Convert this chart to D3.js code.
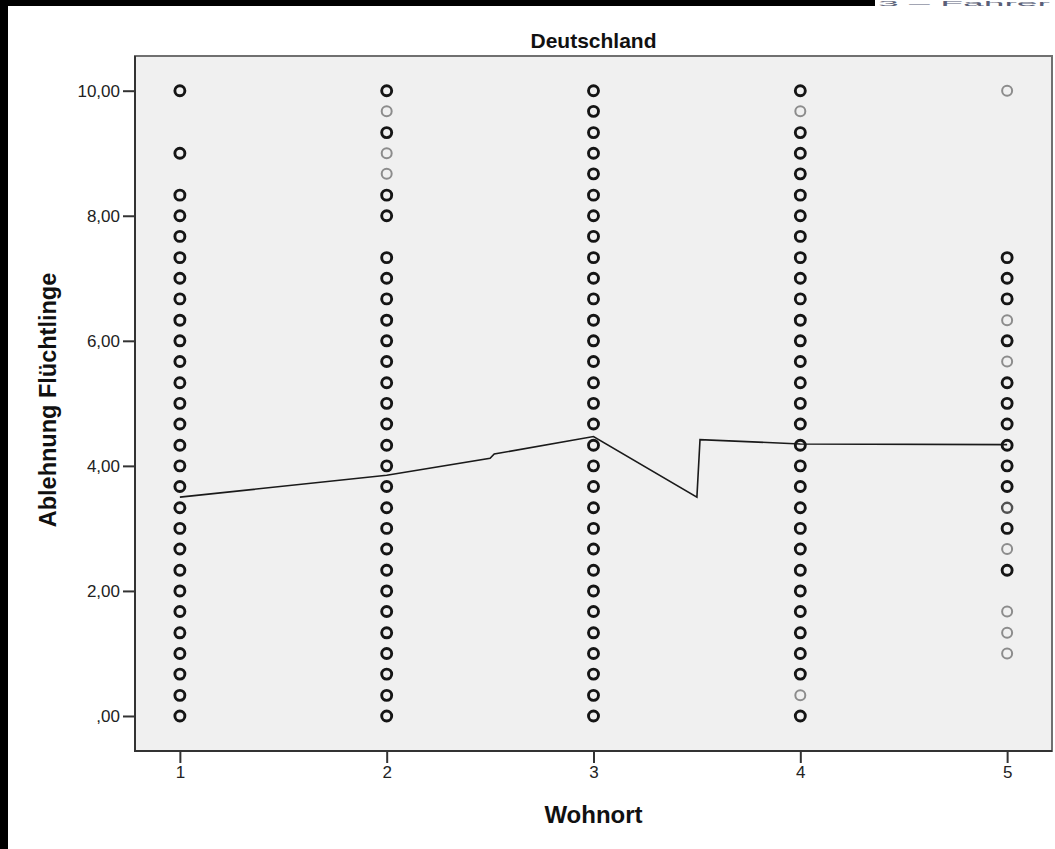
<!DOCTYPE html>
<html>
<head>
<meta charset="utf-8">
<script src="https://cdn.jsdelivr.net/npm/d3@7"></script>
<style>
  html, body { margin: 0; padding: 0; background: #ffffff; }
  svg { display: block; }
  text { font-family: "Liberation Sans", Arial, sans-serif; }
</style>
</head>
<body>
<svg id="chart" width="1055" height="849"></svg>
<script>
// ---------- data ----------
const chartTitle = "Deutschland";
const xTitle = "Wohnort";
const yTitle = "Ablehnung Flüchtlinge";
const cornerText = "3 – Fahrer";
const wohnort = [1, 2, 3, 4, 5];
const yTickValues = [0, 2, 4, 6, 8, 10];
const yTickLabels = [",00", "2,00", "4,00", "6,00", "8,00", "10,00"];

// observed values of "Ablehnung Flüchtlinge" per Wohnort group
const values1 = [0, 0.33, 0.67, 1, 1.33, 1.67, 2, 2.33, 2.67, 3, 3.33, 3.67, 4, 4.33, 4.67, 5, 5.33, 5.67, 6, 6.33, 6.67, 7, 7.33, 7.67, 8, 8.33, 9, 10];
const shade1  = [3, 3, 3, 3, 3, 3, 3, 3, 3, 3, 3, 3, 3, 3, 3, 3, 3, 3, 3, 3, 3, 3, 3, 3, 3, 3, 3, 3];
const values2 = [0, 0.33, 0.67, 1, 1.33, 1.67, 2, 2.33, 2.67, 3, 3.33, 3.67, 4, 4.33, 4.67, 5, 5.33, 5.67, 6, 6.33, 6.67, 7, 7.33, 8, 8.33, 8.67, 9, 9.33, 9.67, 10];
const shade2  = [3, 3, 3, 3, 3, 3, 3, 3, 3, 3, 3, 3, 3, 3, 3, 3, 3, 3, 3, 3, 3, 3, 3, 3, 3, 1, 1, 3, 1, 3];
const values3 = [0, 0.33, 0.67, 1, 1.33, 1.67, 2, 2.33, 2.67, 3, 3.33, 3.67, 4, 4.33, 4.67, 5, 5.33, 5.67, 6, 6.33, 6.67, 7, 7.33, 7.67, 8, 8.33, 8.67, 9, 9.33, 9.67, 10];
const shade3  = [3, 3, 3, 3, 3, 3, 3, 3, 3, 3, 3, 3, 3, 3, 3, 3, 3, 3, 3, 3, 3, 3, 3, 3, 3, 3, 3, 3, 3, 3, 3];
const values4 = [0, 0.33, 0.67, 1, 1.33, 1.67, 2, 2.33, 2.67, 3, 3.33, 3.67, 4, 4.33, 4.67, 5, 5.33, 5.67, 6, 6.33, 6.67, 7, 7.33, 7.67, 8, 8.33, 8.67, 9, 9.33, 9.67, 10];
const shade4  = [3, 1, 3, 3, 3, 3, 3, 3, 3, 3, 3, 3, 3, 3, 3, 3, 3, 3, 3, 3, 3, 3, 3, 3, 3, 3, 3, 3, 3, 1, 3];
const values5 = [1, 1.33, 1.67, 2.33, 2.67, 3, 3.33, 3.67, 4, 4.33, 4.67, 5, 5.33, 5.67, 6, 6.33, 6.67, 7, 7.33, 10];
const shade5  = [1, 1, 1, 3, 1, 3, 2, 3, 3, 3, 3, 3, 3, 1, 3, 1, 3, 3, 3, 1];

// fit line (as drawn in the chart)
const fitX = [1, 2, 2.5, 2.52, 3, 3.5, 3.515, 4, 5];
const fitY = [3.5, 3.85, 4.12, 4.19, 4.47, 3.5, 4.42, 4.35, 4.34];

// ---------- build ----------
const groups = [
  { x: wohnort[0], vals: values1, shade: shade1 },
  { x: wohnort[1], vals: values2, shade: shade2 },
  { x: wohnort[2], vals: values3, shade: shade3 },
  { x: wohnort[3], vals: values4, shade: shade4 },
  { x: wohnort[4], vals: values5, shade: shade5 }
];
const points = [];
groups.forEach(g => g.vals.forEach((v, i) => points.push({ x: g.x, y: v, s: g.shade[i] })));

const svg = d3.select("#chart");
const L = 135, R = 1052, T = 56, B = 751;

const x = d3.scaleLinear().domain([0.783, 5.217]).range([L, R]);
const y = d3.scaleLinear().domain([-0.56, 10.555]).range([B, T]);

const strokeColor = d3.scaleOrdinal().domain([1, 2, 3]).range(["#8c8c8c", "#505050", "#151515"]);
const strokeWidth = d3.scaleOrdinal().domain([1, 2, 3]).range([2.0, 2.4, 2.9]);

// page decorations (screenshot frame)
svg.append("rect").attr("x", 0).attr("y", 0).attr("width", 8).attr("height", 849).attr("fill", "#000");
svg.append("rect").attr("x", 0).attr("y", 0).attr("width", 875).attr("height", 6).attr("fill", "#000");
svg.append("text").attr("x", 878).attr("y", 6).attr("font-size", 7)
  .attr("textLength", 172).attr("lengthAdjust", "spacingAndGlyphs")
  .attr("fill", "#5a5f78").text(cornerText);

// plot area
svg.append("rect").attr("x", L).attr("y", T).attr("width", R - L).attr("height", B - T)
  .attr("fill", "#f0f0f0").attr("stroke", "#707070").attr("stroke-width", 2);

// axes
const yAxis = d3.axisLeft(y).tickValues(yTickValues)
  .tickFormat((d, i) => yTickLabels[i]).tickSize(12).tickPadding(3);
const gy = svg.append("g").attr("transform", `translate(${L},0)`).call(yAxis);
gy.select(".domain").remove();
gy.selectAll("line").attr("stroke", "#333").attr("stroke-width", 2);
gy.selectAll("text").attr("font-size", 17).attr("fill", "#222")
  .attr("font-family", "'Liberation Sans', Arial, sans-serif");

const xAxis = d3.axisBottom(x).tickValues(wohnort).tickFormat(d3.format("d")).tickSize(12).tickPadding(3);
const gx = svg.append("g").attr("transform", `translate(0,${B})`).call(xAxis);
gx.select(".domain").remove();
gx.selectAll("line").attr("stroke", "#333").attr("stroke-width", 2);
gx.selectAll("text").attr("font-size", 17).attr("fill", "#222")
  .attr("font-family", "'Liberation Sans', Arial, sans-serif");

// left and bottom axis lines (darker)
svg.append("line").attr("x1", L).attr("x2", L).attr("y1", T).attr("y2", B + 1).attr("stroke", "#333").attr("stroke-width", 2);
svg.append("line").attr("x1", L - 1).attr("x2", R).attr("y1", B).attr("y2", B).attr("stroke", "#333").attr("stroke-width", 2);

// points
svg.append("g").selectAll("circle").data(points).join("circle")
  .attr("cx", d => x(d.x)).attr("cy", d => y(d.y)).attr("r", 5)
  .attr("fill", "none")
  .attr("stroke", d => strokeColor(d.s))
  .attr("stroke-width", d => strokeWidth(d.s));

// fit line
const line = d3.line().x(d => x(d[0])).y(d => y(d[1]));
svg.append("path").datum(fitX.map((v, i) => [v, fitY[i]]))
  .attr("d", line).attr("fill", "none").attr("stroke", "#1a1a1a").attr("stroke-width", 1.6);

// titles
svg.append("text").attr("x", (L + R) / 2).attr("y", 48).attr("text-anchor", "middle")
  .attr("font-size", 21).attr("font-weight", "bold").attr("fill", "#111").text(chartTitle);
svg.append("text").attr("x", (L + R) / 2).attr("y", 823).attr("text-anchor", "middle")
  .attr("font-size", 24).attr("font-weight", "bold").attr("fill", "#111").text(xTitle);
svg.append("text").attr("transform", "translate(56,400) rotate(-90)").attr("text-anchor", "middle")
  .attr("font-size", 23.5).attr("font-weight", "bold").attr("fill", "#111").text(yTitle);
</script>
</body>
</html>
